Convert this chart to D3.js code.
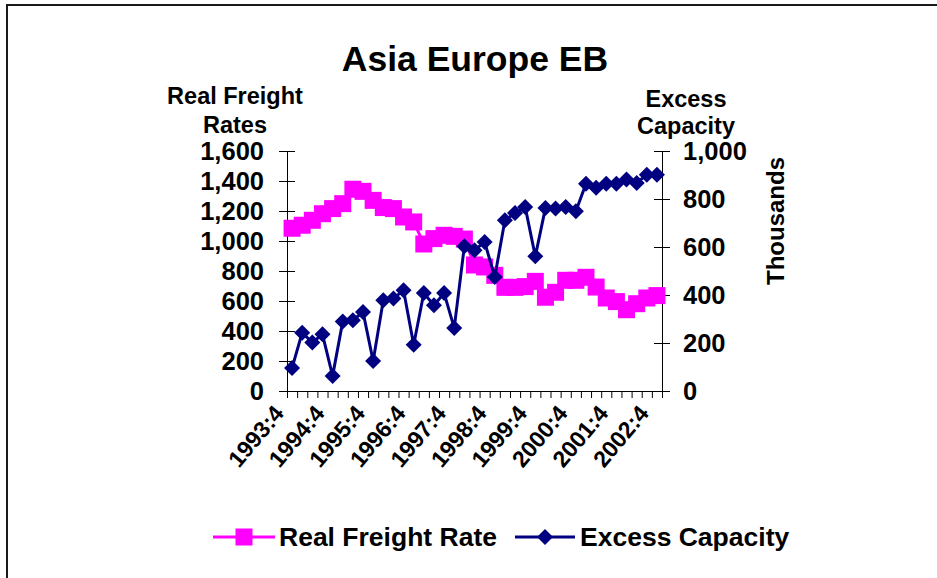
<!DOCTYPE html>
<html>
<head>
<meta charset="utf-8">
<script src="https://cdn.jsdelivr.net/npm/d3@7"></script>
<style>
  body { margin: 0; background: #fff; }
  svg text { font-family: "Liberation Sans", Arial, sans-serif; font-weight: bold; fill: #000; }
</style>
</head>
<body>
<div id="chart"></div>
<script>
// quarters 1993:4 .. 2002:4
var quarters = ['1993:4'];
for (var yr = 1994; yr <= 2002; ++yr) {
    for (var q = 1; q <= 4; ++q) quarters.push(yr + ':' + q);
}

var freightRate = [1085, 1105, 1138, 1182, 1216, 1249, 1345, 1331, 1271, 1223,
    1216, 1160, 1127, 980, 1016, 1038, 1031, 1013, 840, 827,
    771, 691, 691, 696, 731, 625, 658, 738, 738, 758,
    693, 620, 596, 542, 582, 620, 636];
var excessCap = [96, 243, 202, 236, 63, 290, 295, 329, 125, 378,
    385, 420, 193, 408, 357, 408, 263, 603, 586, 621,
    475, 711, 742, 767, 561, 763, 760, 767, 749, 864,
    847, 864, 864, 881, 867, 901, 901];
var leftTicks = [0, 200, 400, 600, 800, 1000, 1200, 1400, 1600];
var rightTicks = [0, 200, 400, 600, 800, 1000];

var width = 937, height = 578;
var x0 = 287, x1 = 662, yTop = 151, yBot = 391;

var svg = d3.select("#chart").append("svg")
    .attr("width", width)
    .attr("height", height);

// outer frame
svg.append("rect")
    .attr("x", 7).attr("y", 5)
    .attr("width", 960).attr("height", 600)
    .attr("fill", "none")
    .attr("stroke", "#1a1a1a")
    .attr("stroke-width", 2);

var xBand = d3.scaleBand().domain(quarters).range([x0, x1]);
var xTick = d3.scaleLinear().domain([0, quarters.length]).range([x0, x1]);
var yL = d3.scaleLinear().domain([0, 1600]).range([yBot, yTop]);
var yR = d3.scaleLinear().domain([0, 1000]).range([yBot, yTop]);
var cx = function (d, i) { return xBand(quarters[i]) + xBand.bandwidth() / 2; };

// axes
var axL = svg.append("g").attr("transform", "translate(" + x0 + ",0)")
    .call(d3.axisLeft(yL).tickValues(leftTicks).tickFormat(d3.format(",")).tickSize(8).tickSizeOuter(0).tickPadding(15));
axL.selectAll(".tick line").attr("x1", 8);

var axR = svg.append("g").attr("transform", "translate(" + x1 + ",0)")
    .call(d3.axisRight(yR).tickValues(rightTicks).tickFormat(d3.format(",")).tickSize(8).tickSizeOuter(0).tickPadding(13));
axR.selectAll(".tick line").attr("x1", -8);

var axB = svg.append("g").attr("transform", "translate(0," + yBot + ")")
    .call(d3.axisBottom(xTick).tickValues(d3.range(quarters.length + 1)).tickFormat("").tickSize(7).tickSizeOuter(0));

[axL, axR, axB].forEach(function (g) {
    g.selectAll("path, line").attr("stroke", "#000");
    g.selectAll("text").attr("font-size", 25.5).attr("font-family", null);
});

// category labels every 4th quarter
svg.append("g").selectAll("text")
    .data(quarters.filter(function (d, i) { return i % 4 == 0; }))
    .enter().append("text")
    .attr("transform", function (d) {
        return "translate(" + (xBand(d) + xBand.bandwidth() / 2 - 7) + ",414) rotate(-50)";
    })
    .attr("text-anchor", "end")
    .attr("font-size", 23)
    .text(function (d) { return d; });

// series
var lineL = d3.line().x(cx).y(function (d) { return yL(d); });
var lineR = d3.line().x(cx).y(function (d) { return yR(d); });
var sq = 17, dia = 8;

var gPink = svg.append("g");
gPink.append("path").datum(freightRate)
    .attr("d", lineL).attr("fill", "none").attr("stroke", "#FF00FF").attr("stroke-width", 3);
gPink.selectAll("rect").data(freightRate).enter().append("rect")
    .attr("x", function (d, i) { return cx(d, i) - sq / 2; })
    .attr("y", function (d) { return yL(d) - sq / 2; })
    .attr("width", sq).attr("height", sq)
    .attr("fill", "#FF00FF");

var gNavy = svg.append("g");
gNavy.append("path").datum(excessCap)
    .attr("d", lineR).attr("fill", "none").attr("stroke", "#000080").attr("stroke-width", 3);
var diamond = "M0,-" + dia + "L" + dia + ",0L0," + dia + "L-" + dia + ",0Z";
gNavy.selectAll(".dm").data(excessCap).enter().append("path")
    .attr("class", "dm")
    .attr("transform", function (d, i) { return "translate(" + cx(d, i) + "," + yR(d) + ")"; })
    .attr("d", diamond)
    .attr("fill", "#000080");

// titles
svg.append("text").attr("x", 475).attr("y", 71).attr("text-anchor", "middle")
    .attr("font-size", 35.5).text("Asia Europe EB");
svg.append("text").attr("x", 235).attr("y", 104).attr("text-anchor", "middle")
    .attr("font-size", 23.5).text("Real Freight");
svg.append("text").attr("x", 235).attr("y", 133).attr("text-anchor", "middle")
    .attr("font-size", 23.5).text("Rates");
svg.append("text").attr("x", 686).attr("y", 107).attr("text-anchor", "middle")
    .attr("font-size", 23.5).text("Excess");
svg.append("text").attr("x", 686).attr("y", 134).attr("text-anchor", "middle")
    .attr("font-size", 23.5).text("Capacity");
svg.append("text").attr("transform", "translate(784,221) rotate(-90)").attr("text-anchor", "middle")
    .attr("font-size", 24).text("Thousands");

// legend
var leg = svg.append("g");
leg.append("line").attr("x1", 213).attr("x2", 275).attr("y1", 537).attr("y2", 537)
    .attr("stroke", "#FF00FF").attr("stroke-width", 3);
leg.append("rect").attr("x", 244 - sq / 2).attr("y", 537 - sq / 2).attr("width", sq).attr("height", sq)
    .attr("fill", "#FF00FF");
leg.append("text").attr("x", 279).attr("y", 546).attr("font-size", 26.5).text("Real Freight Rate");
leg.append("line").attr("x1", 515).attr("x2", 575).attr("y1", 537).attr("y2", 537)
    .attr("stroke", "#000080").attr("stroke-width", 3);
leg.append("path").attr("transform", "translate(545,537)").attr("d", diamond).attr("fill", "#000080");
leg.append("text").attr("x", 580).attr("y", 546).attr("font-size", 26.5).text("Excess Capacity");
</script>
</body>
</html>
